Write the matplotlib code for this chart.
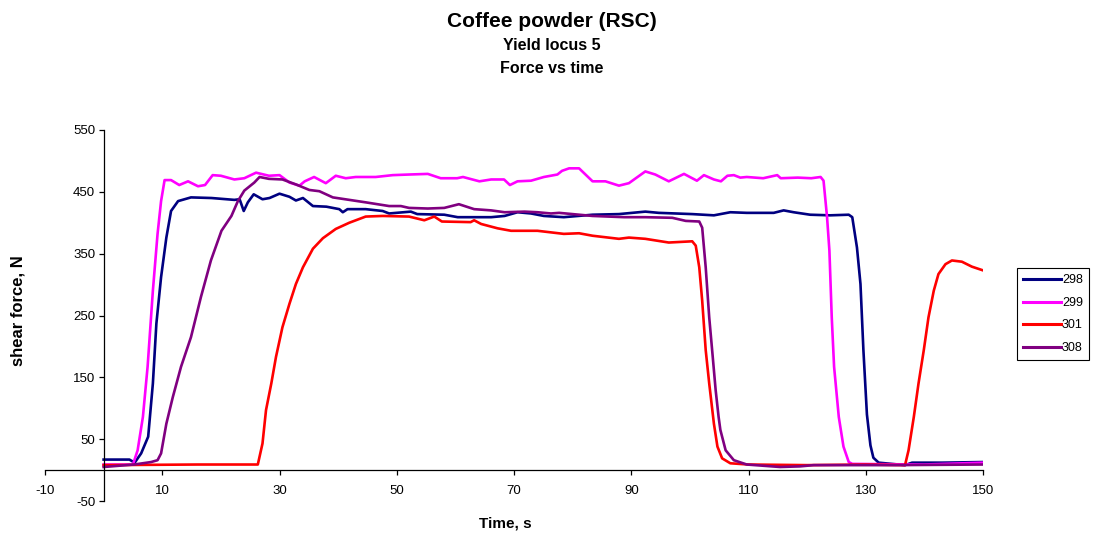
import matplotlib.pyplot as plt

plt.rcParams['font.family'] = ['Liberation Sans', 'DejaVu Sans']
plt.rcParams['axes.unicode_minus'] = False

# force vs time
t_298 = [0, 4.4, 5.3, 6.4, 7.6, 8.4, 9.0, 9.8, 10.7, 11.5, 12.7, 14.9, 18.4, 22.3, 23.2, 23.9,
         24.6, 25.6, 27.1, 28.3, 30.0, 31.7, 32.8, 34.0, 35.7, 38.0, 40.2, 40.8, 41.6, 44.7,
         47.6, 48.7, 52.4, 53.5, 58.1, 60.4, 66.1, 68.4, 70.6, 72.9, 75.1, 78.5, 83.4, 87.9,
         92.4, 94.7, 100.4, 104.1, 106.9, 109.7, 114.3, 116.0, 117.7, 120.5, 123.9, 127.1,
         127.7, 128.5, 129.1, 129.6, 130.2, 130.8, 131.3, 132.2, 136.7, 137.9, 143.0, 150.0]
f_298 = [17, 17, 12, 27, 54, 140, 237, 312, 376, 419, 435, 441, 440, 437, 438, 419,
         433, 446, 438, 440, 447, 442, 436, 440, 427, 426, 422, 417, 422, 422,
         419, 415, 418, 414, 413, 409, 409, 411, 417, 415, 411, 409, 413, 414,
         418, 416, 414, 412, 417, 416, 416, 420, 417, 413, 412, 413,
         409, 360, 301, 194, 90, 40, 20, 12, 8, 12, 12, 13]

t_299 = [0, 5.0, 5.8, 6.7, 7.5, 8.4, 9.2, 9.8, 10.4, 11.5, 12.9, 14.4, 16.1, 17.3, 18.6, 20.0,
         22.3, 24.0, 26.0, 28.2, 30.0, 31.7, 33.4, 34.3, 35.9, 37.9, 39.6, 41.3, 43.0, 46.4,
         49.3, 52.1, 55.3, 57.5, 60.3, 61.3, 64.1, 66.1, 68.3, 69.3, 70.6, 72.9, 75.1, 77.4,
         78.2, 79.4, 81.1, 83.4, 85.6, 87.9, 89.6, 92.4, 94.1, 96.4, 99.0, 101.2, 102.4,
         104.1, 105.3, 106.4, 107.5, 108.6, 109.7, 112.5, 114.9, 115.5, 118.4, 120.7, 122.3,
         122.8, 123.4, 123.8, 124.2, 124.6, 125.4, 126.2, 127.1, 127.7, 140.0, 150.0]
f_299 = [9, 9, 32, 86, 167, 290, 382, 435, 469, 469, 461, 467, 459, 461, 477, 476,
         470, 472, 481, 476, 477, 465, 460, 467, 474, 464, 476, 472, 474, 474,
         477, 478, 479, 472, 472, 474, 467, 470, 470, 461, 467, 468, 474, 478,
         484, 488, 488, 467, 467, 460, 464, 483, 478, 467, 479, 468, 477,
         470, 467, 476, 477, 473, 474, 472, 477, 472, 473, 472, 474,
         468, 409, 355, 247, 167, 86, 38, 13, 10, 9, 12]

t_301 = [0, 16.0, 26.3, 27.1, 27.7, 28.6, 29.4, 30.5, 31.7, 32.8, 34.0, 35.7, 37.4, 39.6,
         41.9, 44.7, 47.6, 52.1, 54.7, 56.4, 57.7, 62.6, 63.2, 64.4, 67.2, 69.5, 74.0,
         78.5, 81.1, 83.4, 87.9, 89.6, 92.4, 96.4, 100.4, 101.0, 101.6, 102.1, 102.7,
         103.3, 104.1, 104.7, 105.5, 106.9, 110.0, 120.0, 130.0, 136.7, 137.3, 138.2,
         139.0, 139.9, 140.7, 141.6, 142.4, 143.6, 144.7, 146.4, 148.1, 150.0]
f_301 = [8, 9, 9, 43, 97, 140, 183, 231, 269, 301, 328, 358, 375, 390,
         400, 410, 411, 410, 404, 410, 402, 401, 404, 398, 391, 387, 387,
         382, 383, 379, 374, 376, 374, 368, 370, 363, 328, 274, 194,
         140, 75, 38, 19, 11, 9, 8, 9, 8, 32, 86,
         140, 194, 247, 290, 317, 333, 339, 337, 329, 323]

t_308 = [0, 5.2, 8.1, 9.2, 9.8, 10.7, 11.8, 13.2, 14.9, 16.6, 18.3, 20.1, 21.8, 22.9, 24.0,
         25.7, 26.6, 28.2, 30.5, 32.8, 35.1, 36.8, 39.1, 41.9, 44.7, 48.7, 50.7, 52.1,
         55.3, 58.1, 60.6, 63.2, 66.1, 68.4, 71.8, 74.0, 76.3, 77.7, 83.4, 88.8, 92.4,
         97.0, 99.3, 101.6, 102.1, 102.7, 103.3, 103.9, 104.4, 104.9, 105.2, 106.1, 107.5,
         109.7, 115.4, 118.8, 121.1, 135.0, 150.0]
f_308 = [5, 9, 13, 16, 27, 75, 118, 167, 215, 280, 339, 387, 411, 435, 452,
         465, 474, 471, 470, 462, 453, 451, 441, 437, 433, 427, 427, 424,
         423, 424, 430, 422, 420, 417, 418, 417, 415, 416, 411, 409, 409,
         408, 403, 402, 392, 328, 247, 183, 129, 86, 65, 32, 16,
         9, 5, 6, 8, 8, 9]

labels = ['298', '299', '301', '308']
colors = ['#000080', '#FF00FF', '#FF0000', '#800080']

fig = plt.figure(figsize=(11.04, 5.41), dpi=100)
ax = fig.add_axes([45 / 1104, 1 - 501 / 541, 938 / 1104, 371 / 541])

for t, f, lab, c in zip([t_298, t_299, t_301, t_308], [f_298, f_299, f_301, f_308], labels, colors):
    ax.plot(t, f, color=c, lw=1.9, label=lab)

ax.set_xlim(-10, 150)
ax.set_ylim(-50, 550)
ax.set_xticks(range(-10, 151, 20))
ax.set_yticks(range(-50, 551, 100))

ax.spines['left'].set_position(('data', 0))
ax.spines['bottom'].set_position(('data', 0))
ax.spines['top'].set_visible(False)
ax.spines['right'].set_visible(False)
for s in ['left', 'bottom']:
    ax.spines[s].set_linewidth(0.9)
ax.tick_params(direction='out', length=3.5, width=0.9, labelsize=9.5)
ax.tick_params(axis='x', pad=7)
ax.tick_params(axis='y', pad=2.5)

fig.text(0.5, 0.960, 'Coffee powder (RSC)', ha='center', va='center', fontsize=15, fontweight='bold')
fig.text(0.5, 0.915, 'Yield locus 5', ha='center', va='center', fontsize=11.5, fontweight='bold')
fig.text(0.5, 0.873, 'Force vs time', ha='center', va='center', fontsize=11.5, fontweight='bold')
fig.text(505 / 1104, 1 - 524 / 541, 'Time, s', ha='center', va='center', fontsize=11, fontweight='bold')
fig.text(18 / 1104, 1 - 311 / 541, 'shear force, N', ha='center', va='center', rotation=90,
         fontsize=12, fontweight='bold')

leg = ax.legend(loc='upper left', bbox_to_anchor=(1017 / 1104, 1 - 268 / 541), bbox_transform=fig.transFigure,
                borderaxespad=0, fontsize=9, handlelength=3.0, handletextpad=0.1, labelspacing=0.85,
                fancybox=False, framealpha=1, edgecolor='black', borderpad=0.5)
leg.get_frame().set_linewidth(0.8)
for line in leg.get_lines():
    line.set_linewidth(2.2)

fig.savefig('out.png', dpi=100)
